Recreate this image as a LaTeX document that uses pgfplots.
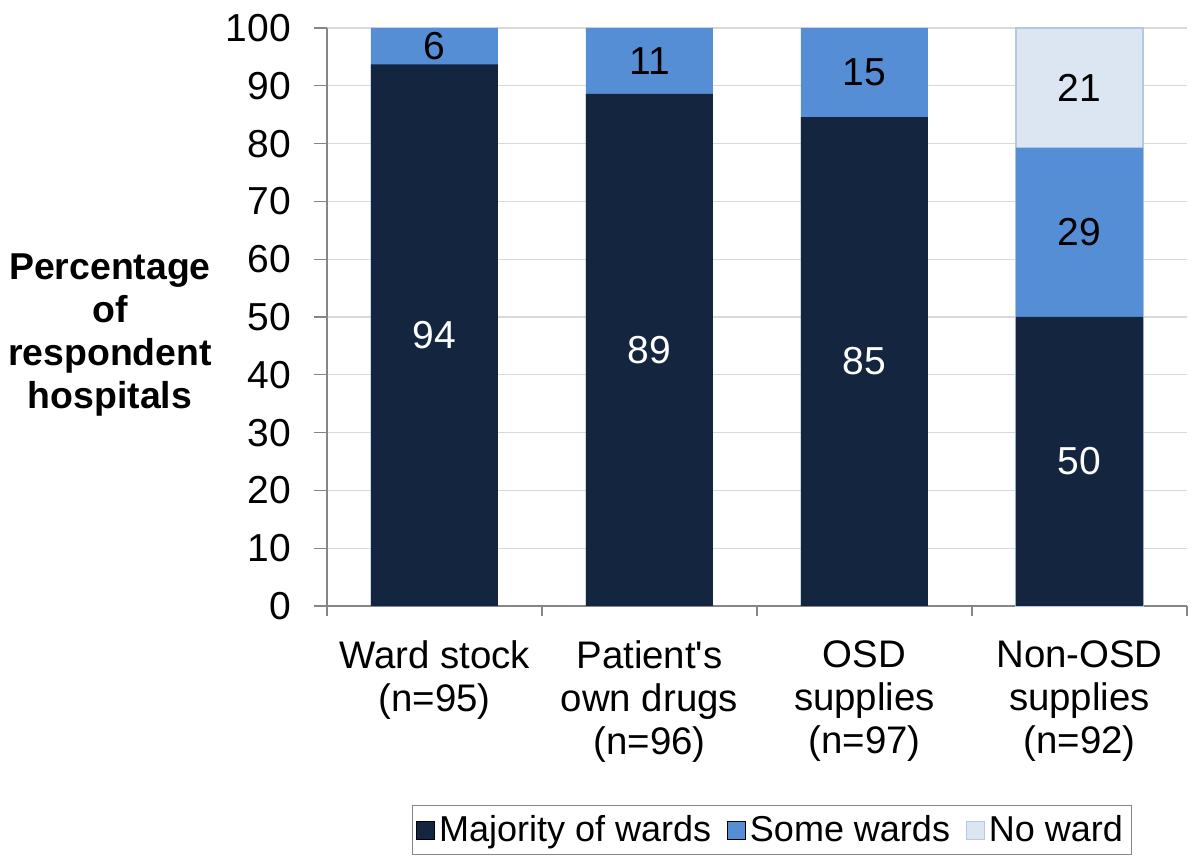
\documentclass[border=0pt]{standalone}
\usepackage{fontspec}
\setmainfont{Liberation Sans}
\usepackage{pgfplots}
\pgfplotsset{compat=1.18}
\definecolor{majority}{HTML}{14253F}
\definecolor{some}{HTML}{558ED5}
\definecolor{noward}{HTML}{DCE6F2}
\definecolor{noedge}{HTML}{B4C8E6}
\definecolor{gridc}{HTML}{D9D9D9}
\definecolor{axisc}{HTML}{868686}

% bar tops (cumulative), one row per category
\pgfplotstableread{
x maj sometop
0 93.7 100
1 88.6 100
2 84.6 100
3 50.0 79.3
}\bars

\begin{document}
\begin{tikzpicture}
\path[use as bounding box] (-163.5pt,-130pt) rectangle (436.5pt,303pt);
\begin{axis}[
  at={(0pt,0pt)}, anchor=south west,
  scale only axis, width=430pt, height=289pt,
  xmin=-0.5, xmax=3.5, ymin=0, ymax=100,
  clip=false,
  axis x line*=bottom, axis y line*=left,
  axis line style={axisc, line width=0.6pt, -},
  tick align=outside,
  ytick={0,10,...,100},
  ymajorgrids, major grid style={gridc, line width=0.6pt},
  ytick style={axisc, line width=0.6pt}, major tick length=6.5pt,
  xtick={0,1,2,3},
  xtick style={draw=none},
  xticklabels={{Ward stock\\(n=95)},{Patient\textquotesingle s\\own drugs\\(n=96)},{OSD\\supplies\\(n=97)},{Non-OSD\\supplies\\(n=92)}},
  xticklabel style={align=center, font=\fontsize{19.2}{21.5}\selectfont, yshift=-7.5pt},
  yticklabel style={font=\fontsize{19.5}{21.5}\selectfont, xshift=-8pt},
  /pgf/number format/assume math mode=true,
  extra x ticks={-0.5,0.5,1.5,2.5,3.5},
  extra x tick labels={},
  extra x tick style={grid=none, xtick style={draw=axisc, line width=0.6pt}, major tick length=5pt},
  legend columns=3,
  legend style={at={(0.517,0)}, anchor=center, yshift=-112pt, draw=axisc,
    font=\fontsize{18}{20}\selectfont, inner xsep=2pt, inner ysep=3pt,
    /tikz/every even column/.append style={column sep=6pt}},
  legend image code/.code={\fill[#1] (0pt,-4.5pt) rectangle (9pt,4.5pt);},
]
\addlegendimage{fill=majority}
\addlegendimage{fill=some}
\addlegendimage{fill=noward, draw=noedge}

\addplot[ybar, bar shift=0pt, bar width=63.5pt, fill=noward, draw=noedge, line width=0.6pt, forget plot]
  coordinates {(3,100)};
\addplot[ybar, bar shift=0pt, bar width=63.5pt, fill=some, draw=none, forget plot]
  table[x=x, y=sometop] {\bars};
\addplot[ybar, bar shift=0pt, bar width=63.5pt, fill=majority, draw=none, forget plot]
  table[x=x, y=maj] {\bars};

% segment labels at segment middles
\addplot[draw=none, mark=none, forget plot, nodes near coords, point meta=explicit symbolic,
  nodes near coords style={anchor=center, text=white, font=\fontsize{19.5}{21.5}\selectfont}]
  table[meta=lab] {
x y lab
0 46.85 94
1 44.3 89
2 42.3 85
3 25.0 50
};
\addplot[draw=none, mark=none, forget plot, nodes near coords, point meta=explicit symbolic,
  nodes near coords style={anchor=center, text=black, font=\fontsize{19.5}{21.5}\selectfont}]
  table[meta=lab] {
x y lab
0 96.85 6
1 94.3 11
2 92.3 15
3 64.65 29
3 89.65 21
};

\node[align=center, font=\bfseries\fontsize{18.7}{21.5}\selectfont]
  at (rel axis cs:0,0.469) [xshift=-108.5pt] {Percentage\\of\\respondent\\hospitals};

\legend{Majority of wards, Some wards, No ward}
\end{axis}
\end{tikzpicture}
\end{document}
